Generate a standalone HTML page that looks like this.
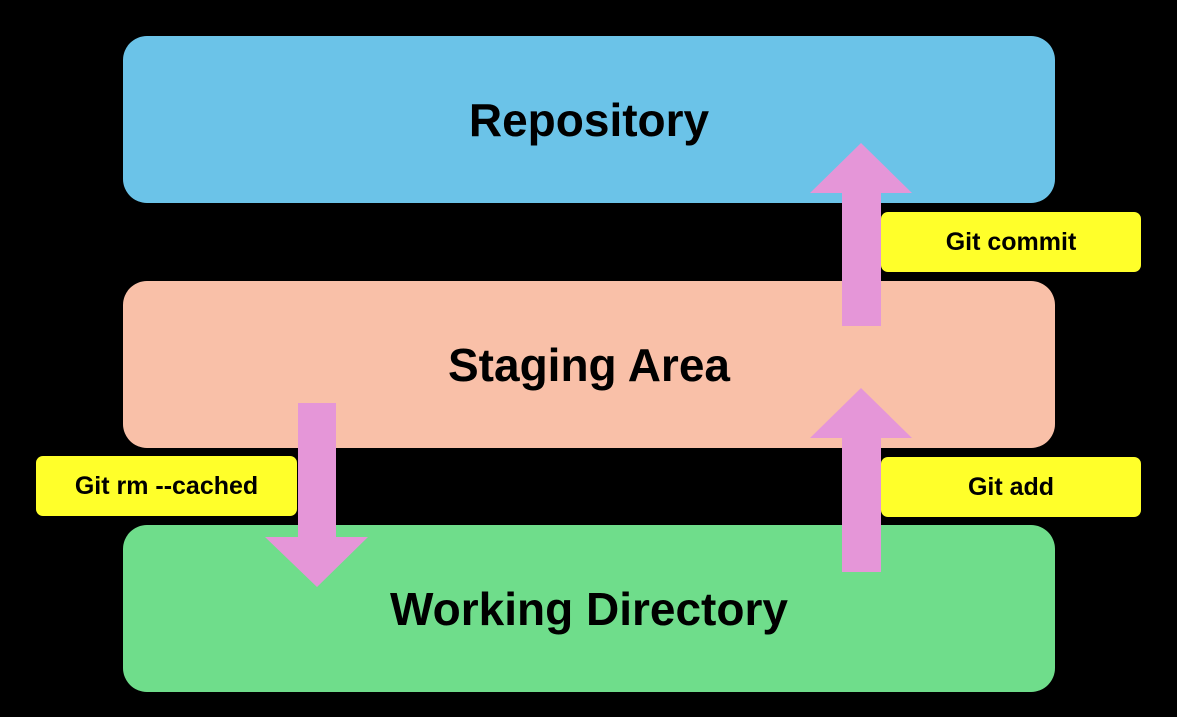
<!DOCTYPE html>
<html><head><meta charset="utf-8"><style>
html,body{margin:0;padding:0;background:#000;}
body{width:1177px;height:717px;position:relative;overflow:hidden;font-family:"Liberation Sans",sans-serif;font-weight:bold;}
.box{position:absolute;left:123px;width:932px;height:167px;border-radius:24px;display:flex;align-items:center;justify-content:center;font-size:46px;color:#000;}
.lbl{position:absolute;width:260px;height:60px;background:#ffff2a;border-radius:7px;display:flex;align-items:center;justify-content:center;font-size:25px;color:#000;}
svg{position:absolute;left:0;top:0;}
</style></head><body>
<div class="box" style="top:36px;background:#6bc3e8;">Repository</div>
<div class="box" style="top:281px;background:#f9c0a8;">Staging Area</div>
<div class="box" style="top:525px;background:#6fdd8b;padding-top:0;">Working Directory</div>
<svg width="1177" height="717">
<g fill="#e596d8">
<polygon points="842,326 881,326 881,193 912,193 861,143 810,193 842,193"/>
<polygon points="842,572 881,572 881,438 912,438 861,388 810,438 842,438"/>
<polygon points="298,403 336,403 336,537 368,537 317,587 265,537 298,537"/>
</g>
</svg>
<div class="lbl" style="left:881px;top:212px;">Git commit</div>
<div class="lbl" style="left:881px;top:457px;">Git add</div>
<div class="lbl" style="left:36px;top:456px;width:261px;">Git rm --cached</div>
</body></html>
